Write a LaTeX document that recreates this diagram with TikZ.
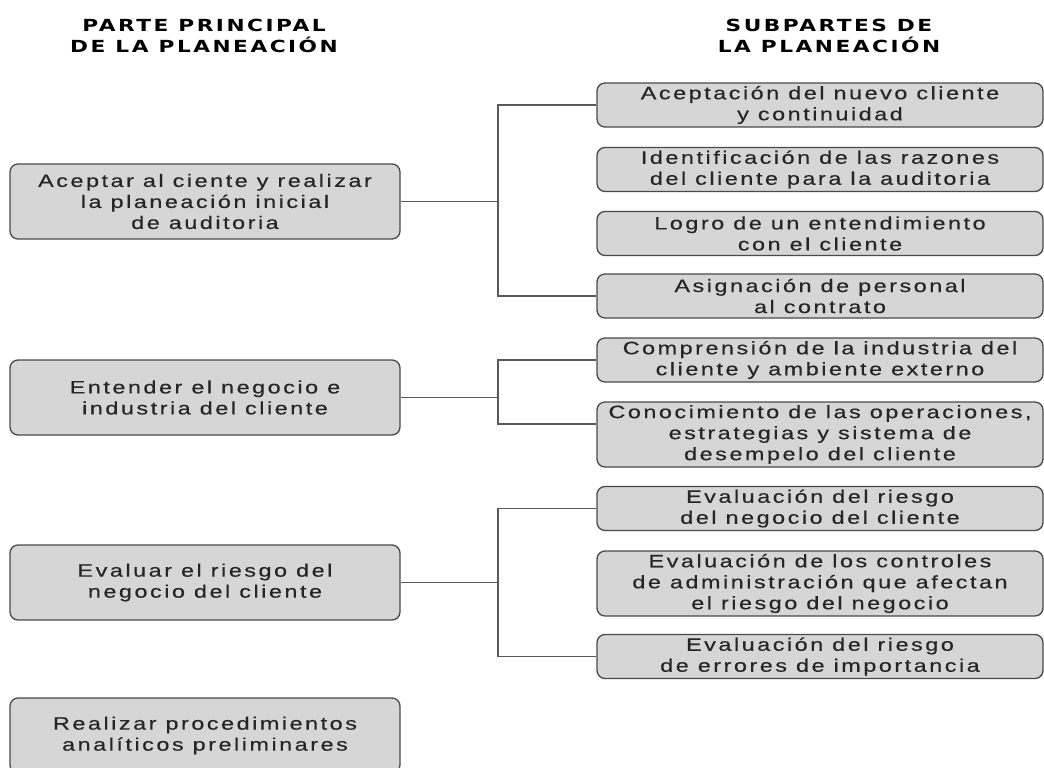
\documentclass[tikz,border=0pt]{standalone}
\usepackage{fontspec}
\setmainfont{Liberation Sans}[FakeStretch=1.3,LetterSpace=14,FakeBold=0.4]
\newfontfamily\headfont{DejaVu Sans}[FakeStretch=1.3,LetterSpace=15]
\definecolor{boxfill}{HTML}{D6D6D6}
\definecolor{boxline}{HTML}{4A4A4A}
\definecolor{linkgray}{HTML}{5A5A5A}

\begin{document}
\begin{tikzpicture}[
    x=0.75pt, y=-0.75pt,
    part/.style={
        rectangle, draw=boxline, fill=boxfill, rounded corners=6pt,
        line width=1pt, minimum width=292.5pt, minimum height=56.25pt,
        align=center, inner sep=0pt, text=black!85,
        font=\fontsize{13.5}{15.75}\selectfont
    },
    sub/.style={
        part, minimum width=334.5pt, minimum height=33pt
    },
    subtall/.style={sub, minimum height=48.75pt},
    head/.style={align=center, font=\headfont\bfseries\fontsize{12.5}{15.75}\selectfont},
    link/.style={draw=linkgray, line width=1.1pt}
]
\useasboundingbox (0,0) rectangle (1044,767);
\node[head] (hmain) at (204, 36) {PARTE PRINCIPAL\\DE LA PLANEACIÓN};
\node[head] (hsub) at (829, 36) {SUBPARTES DE\\LA PLANEACIÓN};

\node[part] (acep) at (205, 201.5) {Aceptar al ciente y realizar\\la planeación inicial\\de auditoria};
\node[part] (neg) at (205, 397.5) {Entender el negocio e\\industria del cliente};
\node[part] (riesgo) at (205, 582.5) {Evaluar el riesgo del\\negocio del cliente};
\node[part] (proc) at (205, 735.5) {Realizar procedimientos\\analíticos preliminares};

\node[sub] (nuevo) at (820, 105) {Aceptación del nuevo cliente\\y continuidad};
\node[sub] (razones) at (820, 169.5) {Identificación de las razones\\del cliente para la auditoria};
\node[sub] (logro) at (820, 233.5) {Logro de un entendimiento\\con el cliente};
\node[sub] (personal) at (820, 296) {Asignación de personal\\al contrato};
\node[sub] (industria) at (820, 360) {Comprensión de la industria del\\cliente y ambiente externo};
\node[subtall] (operac) at (820, 434.5) {Conocimiento de las operaciones,\\estrategias y sistema de\\desempelo del cliente};
\node[sub] (evneg) at (820, 508.5) {Evaluación del riesgo\\del negocio del cliente};
\node[subtall] (evctrl) at (820, 583.5) {Evaluación de los controles\\de administración que afectan\\el riesgo del negocio};
\node[sub] (everr) at (820, 656.5) {Evaluación del riesgo\\de errores de importancia};

\coordinate (j1) at (498, 201.5);
\coordinate (j2) at (498, 397.5);
\coordinate (j3) at (498, 582.5);
\draw[link] (acep) -- (j1);
\draw[link] (nuevo.west) -| (j1) |- (personal.west);
\draw[link] (neg) -- (j2);
\draw[link] (industria.west) -| (j2) |- ([yshift=8pt]operac.west);
\draw[link] (riesgo) -- (j3);
\draw[link] (evneg.west) -| (j3) |- (everr.west);
\end{tikzpicture}
\end{document}
